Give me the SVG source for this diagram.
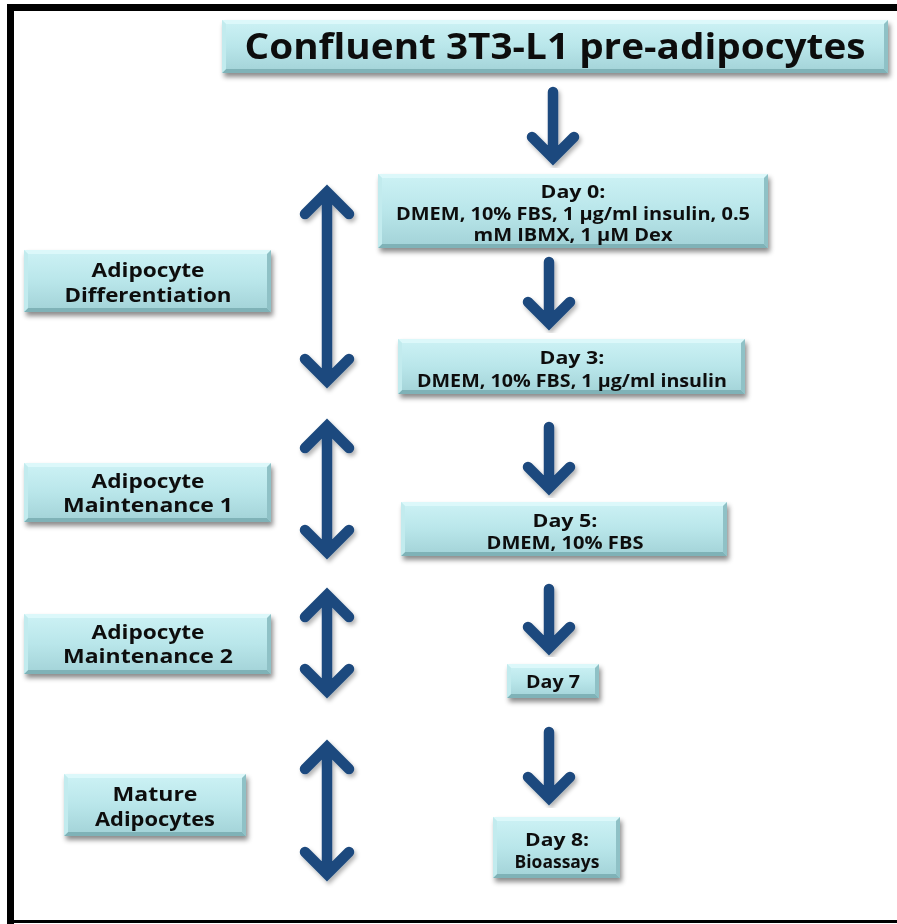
<svg xmlns="http://www.w3.org/2000/svg" width="897" height="924" viewBox="0 0 897 924">
  <defs>
    <linearGradient id="face" x1="0" y1="0" x2="0" y2="1">
      <stop offset="0" stop-color="#cdf2f5"/>
      <stop offset="0.5" stop-color="#b9e6ea"/>
      <stop offset="1" stop-color="#a2d2d7"/>
    </linearGradient>
    <filter id="shadow" x="-10%" y="-20%" width="125%" height="150%">
      <feDropShadow dx="2" dy="4" stdDeviation="2.5" flood-color="#000" flood-opacity="0.45"/>
    </filter>
    <filter id="ashadow" x="-40%" y="-10%" width="180%" height="125%">
      <feDropShadow dx="2" dy="3" stdDeviation="2" flood-color="#000" flood-opacity="0.3"/>
    </filter>
  </defs>
  <style>
    .face { fill: url(#face); }
    .bt { fill: #dcf8fa; }
    .bb { fill: #7fb2b7; }
    .bl { fill: #c2ebee; }
    .br { fill: #8fc1c6; }
    .box { filter: url(#shadow); }
    text { font-family: "Open Sans", Lato, "Liberation Sans", sans-serif; font-weight: bold; fill: #111; text-anchor: middle; }
    .t18 { font-size: 17px; }
    .t20 { font-size: 19px; }
    .title { font-size: 35px; }
    .arr { fill: none; stroke: #1f4a7e; stroke-width: 10.5; stroke-linecap: round; stroke-linejoin: miter; filter: url(#ashadow); }
    .frame { fill: #000; }
  </style>

  <rect width="897" height="924" fill="#fff"/>
  <!-- outer frame -->
  <rect class="frame" x="7" y="4" width="7" height="920"/>
  <rect class="frame" x="7" y="4" width="890" height="7"/>
  <rect class="frame" x="7" y="920" width="890" height="3"/>

  <!-- connectors -->
  <g id="connectors">
    <!-- vertical flow arrows -->
    <path class="arr" d="M553 92 V158 M532 137 L553 158 L574 137"/>
    <path class="arr" d="M549 262 V323 M528 302 L549 323 L570 302"/>
    <path class="arr" d="M549 427 V488 M528 467 L549 488 L570 467"/>
    <path class="arr" d="M549 589 V648 M528 627 L549 648 L570 627"/>
    <path class="arr" d="M549 732 V798 M528 777 L549 798 L570 777"/>
    <!-- phase spans -->
    <path class="arr" d="M327 194 V379 M305 214 L327 192 L349 214 M305 359 L327 381 L349 359"/>
    <path class="arr" d="M327 428 V550 M305 448 L327 426 L349 448 M305 530 L327 552 L349 530"/>
    <path class="arr" d="M327 597 V689 M305 617 L327 595 L349 617 M305 669 L327 691 L349 669"/>
    <path class="arr" d="M327 749 V872 M305 769 L327 747 L349 769 M305 852 L327 874 L349 852"/>
  </g>

  <!-- start -->
  <g id="confluent" class="box">
    <rect class="face" x="222" y="20" width="666" height="53"/>
    <polygon class="bt" points="222,20 888,20 884,24 226,24"/>
    <polygon class="bb" points="222,73 888,73 884,69 226,69"/>
    <polygon class="bl" points="222,20 226,24 226,69 222,73"/>
    <polygon class="br" points="888,20 884,24 884,69 888,73"/>
    <text class="title" x="555" y="59" textLength="621" lengthAdjust="spacingAndGlyphs">Confluent 3T3-L1 pre-adipocytes</text>
  </g>

  <g id="day0" class="box">
    <rect class="face" x="378" y="174" width="390" height="74"/>
    <polygon class="bt" points="378,174 768,174 764,178 382,178"/>
    <polygon class="bb" points="378,248 768,248 764,244 382,244"/>
    <polygon class="bl" points="378,174 382,178 382,244 378,248"/>
    <polygon class="br" points="768,174 764,178 764,244 768,248"/>
    <text class="t18" x="573" y="198" textLength="65" lengthAdjust="spacingAndGlyphs">Day 0:</text>
    <text class="t18" x="573" y="220" textLength="354" lengthAdjust="spacingAndGlyphs">DMEM, 10% FBS, 1 µg/ml insulin, 0.5</text>
    <text class="t18" x="573" y="241" textLength="199" lengthAdjust="spacingAndGlyphs">mM IBMX, 1 µM Dex</text>
  </g>

  <g id="day3" class="box">
    <rect class="face" x="398" y="339" width="347" height="55"/>
    <polygon class="bt" points="398,339 745,339 741,343 402,343"/>
    <polygon class="bb" points="398,394 745,394 741,390 402,390"/>
    <polygon class="bl" points="398,339 402,343 402,390 398,394"/>
    <polygon class="br" points="745,339 741,343 741,390 745,394"/>
    <text class="t18" x="572" y="364" textLength="65" lengthAdjust="spacingAndGlyphs">Day 3:</text>
    <text class="t18" x="572" y="387" textLength="310" lengthAdjust="spacingAndGlyphs">DMEM, 10% FBS, 1 µg/ml insulin</text>
  </g>

  <g id="day5" class="box">
    <rect class="face" x="401" y="502" width="326" height="54"/>
    <polygon class="bt" points="401,502 727,502 723,506 405,506"/>
    <polygon class="bb" points="401,556 727,556 723,552 405,552"/>
    <polygon class="bl" points="401,502 405,506 405,552 401,556"/>
    <polygon class="br" points="727,502 723,506 723,552 727,556"/>
    <text class="t18" x="565" y="527" textLength="65" lengthAdjust="spacingAndGlyphs">Day 5:</text>
    <text class="t18" x="565" y="549" textLength="157" lengthAdjust="spacingAndGlyphs">DMEM, 10% FBS</text>
  </g>

  <g id="day7" class="box">
    <rect class="face" x="507" y="664" width="92" height="34"/>
    <polygon class="bt" points="507,664 599,664 595,668 511,668"/>
    <polygon class="bb" points="507,698 599,698 595,694 511,694"/>
    <polygon class="bl" points="507,664 511,668 511,694 507,698"/>
    <polygon class="br" points="599,664 595,668 595,694 599,698"/>
    <text class="t18" x="553" y="688" textLength="54" lengthAdjust="spacingAndGlyphs">Day 7</text>
  </g>

  <g id="day8" class="box">
    <rect class="face" x="493" y="817" width="127" height="61"/>
    <polygon class="bt" points="493,817 620,817 616,821 497,821"/>
    <polygon class="bb" points="493,878 620,878 616,874 497,874"/>
    <polygon class="bl" points="493,817 497,821 497,874 493,878"/>
    <polygon class="br" points="620,817 616,821 616,874 620,878"/>
    <text class="t18" x="557" y="846" textLength="64" lengthAdjust="spacingAndGlyphs">Day 8:</text>
    <text class="t18" x="557" y="868" textLength="85" lengthAdjust="spacingAndGlyphs">Bioassays</text>
  </g>

  <!-- phase labels -->
  <g id="differentiation" class="box">
    <rect class="face" x="24" y="250" width="247" height="62"/>
    <polygon class="bt" points="24,250 271,250 267,254 28,254"/>
    <polygon class="bb" points="24,312 271,312 267,308 28,308"/>
    <polygon class="bl" points="24,250 28,254 28,308 24,312"/>
    <polygon class="br" points="271,250 267,254 267,308 271,312"/>
    <text class="t20" x="148" y="277" textLength="113" lengthAdjust="spacingAndGlyphs">Adipocyte</text>
    <text class="t20" x="148" y="302" textLength="167" lengthAdjust="spacingAndGlyphs">Differentiation</text>
  </g>

  <g id="maintenance1" class="box">
    <rect class="face" x="24" y="463" width="247" height="59"/>
    <polygon class="bt" points="24,463 271,463 267,467 28,467"/>
    <polygon class="bb" points="24,522 271,522 267,518 28,518"/>
    <polygon class="bl" points="24,463 28,467 28,518 24,522"/>
    <polygon class="br" points="271,463 267,467 267,518 271,522"/>
    <text class="t20" x="148" y="488" textLength="113" lengthAdjust="spacingAndGlyphs">Adipocyte</text>
    <text class="t20" x="148" y="512" textLength="170" lengthAdjust="spacingAndGlyphs">Maintenance 1</text>
  </g>

  <g id="maintenance2" class="box">
    <rect class="face" x="24" y="614" width="247" height="60"/>
    <polygon class="bt" points="24,614 271,614 267,618 28,618"/>
    <polygon class="bb" points="24,674 271,674 267,670 28,670"/>
    <polygon class="bl" points="24,614 28,618 28,670 24,674"/>
    <polygon class="br" points="271,614 267,618 267,670 271,674"/>
    <text class="t20" x="148" y="639" textLength="113" lengthAdjust="spacingAndGlyphs">Adipocyte</text>
    <text class="t20" x="148" y="663" textLength="170" lengthAdjust="spacingAndGlyphs">Maintenance 2</text>
  </g>

  <g id="mature" class="box">
    <rect class="face" x="64" y="774" width="182" height="62"/>
    <polygon class="bt" points="64,774 246,774 242,778 68,778"/>
    <polygon class="bb" points="64,836 246,836 242,832 68,832"/>
    <polygon class="bl" points="64,774 68,778 68,832 64,836"/>
    <polygon class="br" points="246,774 242,778 242,832 246,836"/>
    <text class="t20" x="155" y="801" textLength="85" lengthAdjust="spacingAndGlyphs">Mature</text>
    <text class="t20" x="155" y="826" textLength="120" lengthAdjust="spacingAndGlyphs">Adipocytes</text>
  </g>
</svg>
